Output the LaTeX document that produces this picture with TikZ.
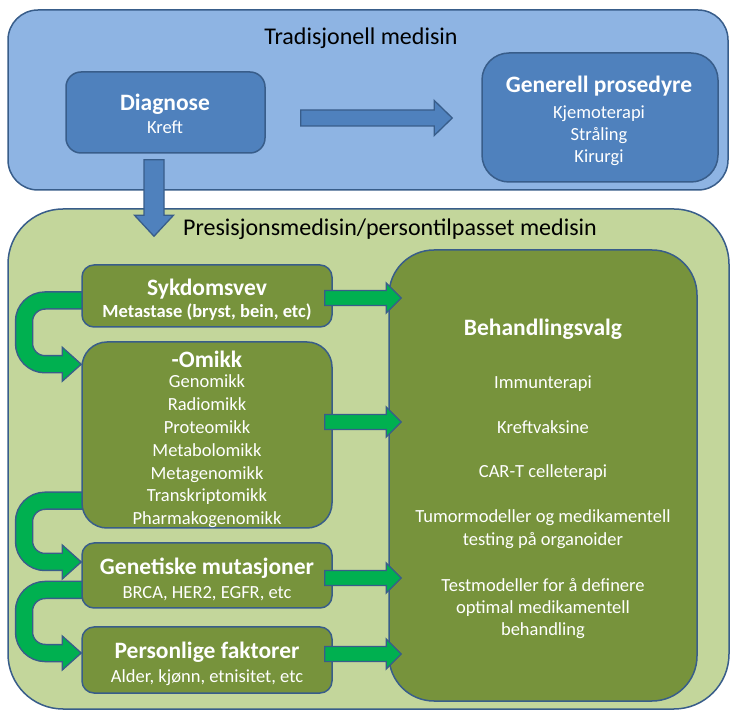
\documentclass[tikz,border=0pt]{standalone}
\usepackage{fontspec}
\setmainfont{Carlito}
\usetikzlibrary{calc}
\definecolor{lblue}{RGB}{142,180,227}
\definecolor{mblue}{RGB}{79,129,189}
\definecolor{bord}{RGB}{56,93,138}
\definecolor{lgreen}{RGB}{195,214,155}
\definecolor{dgreen}{RGB}{119,147,60}
\definecolor{agreen}{RGB}{0,176,80}
\pgfdeclarelayer{bglayer}
\pgfdeclarelayer{midlayer}
\pgfsetlayers{bglayer,midlayer,main}
\newcommand{\rblk}[6]{%
  \path[#1] let \p1=#2, \p2=#3 in
   (\x1,{\y1+#4pt}) -- ({\x2-#6pt},{\y1+#4pt}) -- ({\x2-#6pt},{\y1+#5pt}) -- (\x2,\y1)
   -- ({\x2-#6pt},{\y1-#5pt}) -- ({\x2-#6pt},{\y1-#4pt}) -- (\x1,{\y1-#4pt}) -- cycle;}
\newcommand{\uarr}[3]{%
  \draw[bord, line width=18.5pt, rounded corners=21pt] let \p1=#1, \p2=#2 in
    (\x1,\y1) -- (#3pt,\y1) -- (#3pt,\y2) -- ({\x2-16pt},\y2);
  \filldraw[fill=agreen, draw=bord, line width=1.3pt] let \p2=#2 in
    ({\x2-19pt},{\y2+17pt}) -- (\x2,\y2) -- ({\x2-19pt},{\y2-17pt}) -- cycle;
  \draw[agreen, line width=15.5pt, rounded corners=21pt] let \p1=#1, \p2=#2 in
    (\x1,\y1) -- (#3pt,\y1) -- (#3pt,\y2) -- ({\x2-15pt},\y2);}
\tikzset{
  box/.style={draw=bord, line width=1.5pt, rectangle, inner sep=0pt},
  barrow/.style={fill=mblue, draw=bord, line width=1.3pt},
  garrow/.style={fill=agreen, draw=bord, line width=1.3pt},
  title/.style={font=\fontsize{24}{28}\selectfont, text=black, anchor=base, inner sep=0pt},
  head/.style={font=\fontsize{23.5}{28}\selectfont\bfseries, text=white, anchor=base, inner sep=0pt},
  sub/.style={font=\fontsize{18.5}{22}\selectfont, text=white, anchor=base, inner sep=0pt},
  subb/.style={sub, font=\fontsize{18.5}{22}\selectfont\bfseries},
}
\begin{document}
\begin{tikzpicture}[x=1pt,y=-1pt]
\begin{pgfonlayer}{bglayer}
\fill[white] (0,0) rectangle (732,711);
\node[box, fill=lblue, rounded corners=30pt, minimum width=720pt, minimum height=180pt] (trad) at (368,100) {};
\node[box, fill=lgreen, rounded corners=55pt, minimum width=721pt, minimum height=500pt] (green) at (368.5,459) {};
\end{pgfonlayer}
\useasboundingbox (0,0) rectangle (732,711);
% top inner boxes
\node[box, fill=mblue, rounded corners=15pt, minimum width=199pt, minimum height=81pt] (diag) at (165.5,112.5) {};
\node[box, fill=mblue, rounded corners=27pt, minimum width=236pt, minimum height=129pt] (gen) at (600,117.5) {};
% left boxes
\node[box, fill=dgreen, rounded corners=12pt, minimum width=250pt, minimum height=62pt] (syk) at (207,296) {};
\node[box, fill=dgreen, rounded corners=25pt, minimum width=250pt, minimum height=186pt] (omikk) at (207,435) {};
\node[box, fill=dgreen, rounded corners=12pt, minimum width=250pt, minimum height=65pt] (gmut) at (207,575.5) {};
\node[box, fill=dgreen, rounded corners=12pt, minimum width=250pt, minimum height=66pt] (pers) at (207,660) {};
\node[box, fill=dgreen, rounded corners=45pt, minimum width=308pt, minimum height=451pt] (beh) at (543,475.5) {};
% curved arrows
\begin{pgfonlayer}{midlayer}
\uarr{($(syk.west)+(8,4.5)$)}{($(omikk.north west)+(0,23)$)}{24}
\uarr{($(omikk.south west)+(8,-28)$)}{($(gmut.west)+(0,-13.5)$)}{24}
\uarr{($(gmut.west)+(8,14.5)$)}{($(pers.west)+(0,-7)$)}{24}
\end{pgfonlayer}
% blue arrows
\rblk{barrow}{($(diag.east)+(35,5.5)$)}{($(gen.west)+(-29,0)$)}{8}{17.5}{18}
\path[barrow] let \p1=($(diag.south)+(-11.5,6)$), \p2=($(green.north)+(0,28)$) in
  ({\x1-10pt},\y1) -- ({\x1+10pt},\y1) -- ({\x1+10pt},{\y2+21pt}) -- ({\x1+19.5pt},{\y2+21pt})
  -- (\x1,\y2) -- ({\x1-19.5pt},{\y2+21pt}) -- ({\x1-10pt},{\y2+21pt}) -- cycle;
% green straight arrows
\rblk{garrow}{($(syk.east)+(-8,2)$)}{($(beh.west)+(13,0)$)}{7.5}{15}{15}
\rblk{garrow}{($(omikk.east)+(-8,-13)$)}{($(beh.west)+(13,0)$)}{7.5}{15}{15}
\rblk{garrow}{($(gmut.east)+(-8,2.5)$)}{($(beh.west)+(13,0)$)}{7.5}{15}{15}
\rblk{garrow}{($(pers.east)+(-8,-6)$)}{($(beh.west)+(13,0)$)}{7.5}{15}{15}
% texts
\node[title] (t1) at (361,45) {Tradisjonell medisin};
\node[title] (t2) at (390,236) {Presisjonsmedisin/persontilpasset medisin};
\node[head] (d1) at (165,111) {Diagnose};
\node[sub] (d2) at (165,134) {Kreft};
\node[head] (g1) at (599,93) {Generell prosedyre};
\node[sub] (g2) at (599,119) {Kjemoterapi};
\node[sub] (g3) at (599,141) {Stråling};
\node[sub] (g4) at (599,163) {Kirurgi};
\node[head] (s1) at (207,296) {Sykdomsvev};
\node[subb] (s2) at (207,318) {Metastase (bryst, bein, etc)};
\node[head] (o0) at (207,368) {-Omikk};
\foreach \t [count=\i] in {Genomikk,Radiomikk,Proteomikk,Metabolomikk,Metagenomikk,Transkriptomikk,Pharmakogenomikk}
  \node[sub] (o\i) at (207,{388+22.8*(\i-1)}) {\t};
\node[head] (m1) at (207,575) {Genetiske mutasjoner};
\node[sub] (m2) at (207,598) {BRCA, HER2, EGFR, etc};
\node[head] (p1) at (207,658) {Personlige faktorer};
\node[sub] (p2) at (207,682) {Alder, kjønn, etnisitet, etc};
\node[head] (b0) at (543,336) {Behandlingsvalg};
\node[sub] (b1) at (543,389) {Immunterapi};
\node[sub] (b2) at (543,434) {Kreftvaksine};
\node[sub] (b3) at (543,478) {CAR-T celleterapi};
\node[sub] (b4) at (543,523) {Tumormodeller og medikamentell};
\node[sub] (b5) at (543,546) {testing på organoider};
\node[sub] (b6) at (543,591) {Testmodeller for å definere};
\node[sub] (b7) at (543,613) {optimal medikamentell};
\node[sub] (b8) at (543,635) {behandling};
\end{tikzpicture}
\end{document}
